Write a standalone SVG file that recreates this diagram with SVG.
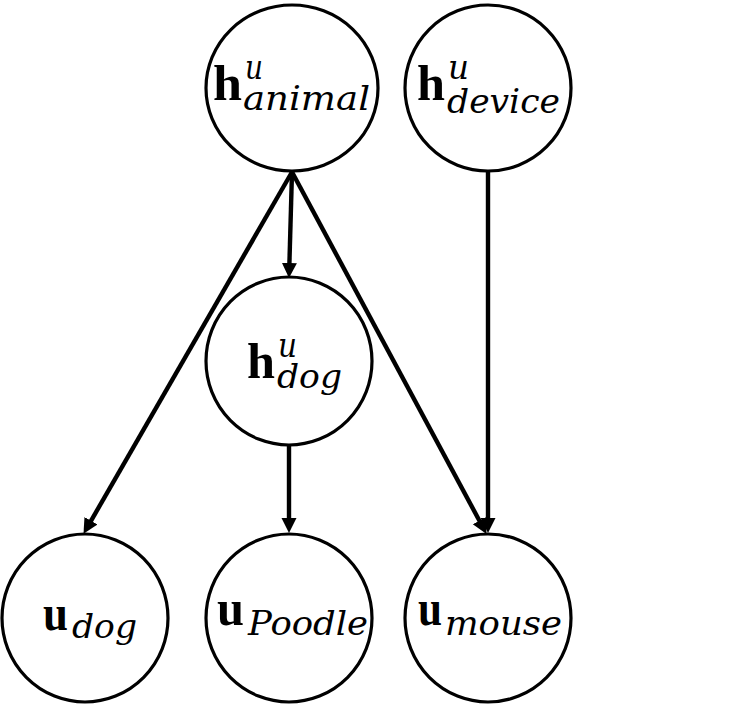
<svg xmlns="http://www.w3.org/2000/svg" width="734" height="705" viewBox="0 0 734 705">
<style>
.node{fill:#fff;stroke:#000;stroke-width:3.2}
.edge{fill:none;stroke:#000;stroke-width:4.4}
.b{font-family:"Liberation Serif","DejaVu Serif",serif;font-weight:bold;fill:#000}
.i{font-family:"DejaVu Serif","Liberation Serif",serif;font-style:italic;fill:#000}
</style>
<defs>
<marker id="ah" markerUnits="userSpaceOnUse" markerWidth="16" markerHeight="16" viewBox="0 0 16 16" refX="4" refY="8" orient="auto">
<path d="M0,0.5 L15,8 L0,15.5 z" fill="#000"/>
</marker>
</defs>
<rect width="734" height="705" fill="#fff"/>
<g id="connectors">
<line class="edge" x1="292" y1="172" x2="89" y2="524.3" marker-end="url(#ah)"/>
<line class="edge" x1="292" y1="172" x2="289.3" y2="267" marker-end="url(#ah)"/>
<line class="edge" x1="292" y1="172" x2="481.3" y2="524.2" marker-end="url(#ah)"/>
<line class="edge" x1="488" y1="171" x2="488" y2="522" marker-end="url(#ah)"/>
<line class="edge" x1="289" y1="446" x2="289" y2="522" marker-end="url(#ah)"/>
</g>
<g id="h_animal">
<ellipse class="node" cx="292" cy="88" rx="86" ry="83"/>
<text class="b" x="213" y="100" font-size="50" textLength="29" lengthAdjust="spacingAndGlyphs">h</text>
<text class="i" x="245" y="79" font-size="34" textLength="18" lengthAdjust="spacingAndGlyphs">u</text>
<text class="i" x="243" y="110" font-size="34" textLength="127" lengthAdjust="spacingAndGlyphs">animal</text>
</g>
<g id="h_device">
<ellipse class="node" cx="488" cy="88" rx="83" ry="83"/>
<text class="b" x="417" y="100" font-size="50" textLength="28" lengthAdjust="spacingAndGlyphs">h</text>
<text class="i" x="448" y="79" font-size="34" textLength="21" lengthAdjust="spacingAndGlyphs">u</text>
<text class="i" x="447" y="113" font-size="34" textLength="113" lengthAdjust="spacingAndGlyphs">device</text>
</g>
<g id="h_dog">
<ellipse class="node" cx="289" cy="361" rx="83" ry="84"/>
<text class="b" x="247" y="378" font-size="50" textLength="28" lengthAdjust="spacingAndGlyphs">h</text>
<text class="i" x="278" y="357" font-size="34" textLength="19" lengthAdjust="spacingAndGlyphs">u</text>
<text class="i" x="277" y="388" font-size="34" textLength="65" lengthAdjust="spacingAndGlyphs">dog</text>
</g>
<g id="u_dog">
<ellipse class="node" cx="85" cy="618" rx="83" ry="84"/>
<text class="b" x="43" y="630" font-size="50" textLength="25" lengthAdjust="spacingAndGlyphs">u</text>
<text class="i" x="72" y="638" font-size="34" textLength="65" lengthAdjust="spacingAndGlyphs">dog</text>
</g>
<g id="u_Poodle">
<ellipse class="node" cx="289" cy="618" rx="83" ry="84"/>
<text class="b" x="217" y="625" font-size="50" textLength="27" lengthAdjust="spacingAndGlyphs">u</text>
<text class="i" x="248" y="635" font-size="34" textLength="120" lengthAdjust="spacingAndGlyphs">Poodle</text>
</g>
<g id="u_mouse">
<ellipse class="node" cx="488" cy="618" rx="83" ry="84"/>
<text class="b" x="418" y="625" font-size="50" textLength="24" lengthAdjust="spacingAndGlyphs">u</text>
<text class="i" x="445" y="635" font-size="34" textLength="117" lengthAdjust="spacingAndGlyphs">mouse</text>
</g>
</svg>
